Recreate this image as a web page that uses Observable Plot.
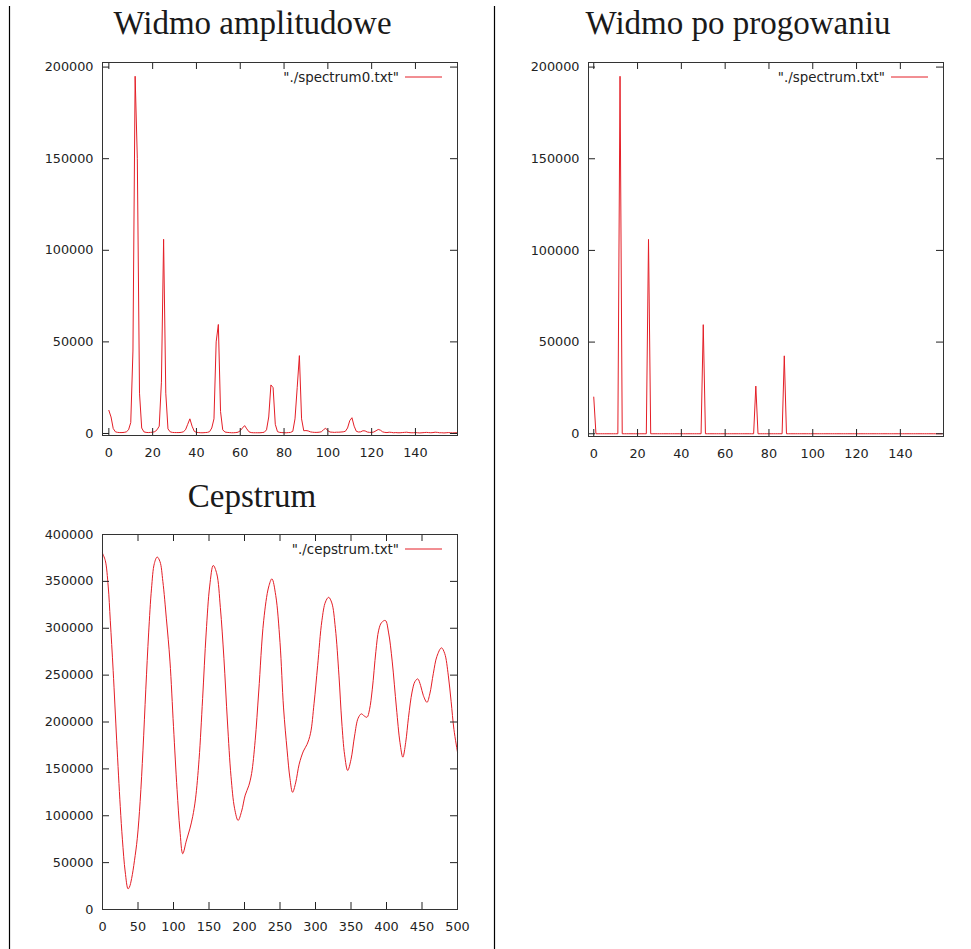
<!DOCTYPE html>
<html><head><meta charset="utf-8">
<script src="https://cdn.jsdelivr.net/npm/d3@7"></script>
<script src="https://cdn.jsdelivr.net/npm/@observablehq/plot@0.6"></script>
<style>
body{margin:0;background:#fff;}
#page{position:relative;width:971px;height:949px;overflow:hidden;background:#fff;}
.panel{position:absolute;}
#overlay{position:absolute;left:0;top:0;pointer-events:none;}
</style></head><body><div id="page"></div><script>
// ---------- data ----------
const titles = ["Widmo amplitudowe", "Widmo po progowaniu", "Cepstrum"];
const legendLabels = ['"./spectrum0.txt"', '"./spectrum.txt"', '"./cepstrum.txt"'];

// amplitude spectrum, bins 0..159
const spectrum0 = [
  12600, 9000, 2700, 900, 600, 500, 500, 600, 900, 2000,
  6000, 45000, 195000, 150000, 22000, 3000, 900, 600, 500, 600,
  700, 1000, 2000, 4000, 28000, 106000, 22000, 2500, 900, 600,
  500, 500, 500, 600, 900, 2000, 5000, 8000, 4000, 1200,
  600, 500, 400, 400, 500, 600, 1000, 3000, 8000, 50000,
  59500, 12000, 2000, 800, 600, 500, 400, 400, 500, 700,
  1500, 3000, 4300, 2500, 900, 500, 400, 400, 400, 400,
  500, 700, 2000, 9000, 26500, 25000, 5000, 1000, 600, 500,
  400, 400, 500, 600, 1200, 8000, 25000, 42500, 8000, 1500,
  1600, 1400, 900, 700, 600, 600, 700, 900, 2000, 2900,
  1500, 800, 700, 600, 700, 700, 800, 900, 1200, 3000,
  7000, 8600, 4000, 1200, 800, 900, 1500, 1400, 800, 600,
  600, 800, 1500, 2200, 1800, 900, 600, 500, 700, 600,
  400, 500, 400, 400, 500, 600, 700, 500, 400, 400,
  500, 400, 300, 400, 500, 600, 500, 400, 500, 700,
  600, 400, 400, 300, 400, 500, 400, 300, 400, 400
];

// thresholded spectrum: non-zero bins only (all other bins are 0)
const thresholdBins = [0, 12, 25, 50, 74, 87];
const thresholdValues = [20000, 195000, 106000, 59500, 26000, 42500];

// cepstrum key points
const cepstrumX = [0, 4, 8, 11, 15, 20, 25, 28, 32, 36, 38, 41, 45, 49, 53, 57, 61, 65, 69, 73, 77, 81,
  85, 90, 95, 100, 105, 109, 113, 118, 123, 127, 131, 136, 141, 146, 151, 156, 161, 166, 171, 176,
  181, 186, 191, 196, 201, 206, 210, 215, 220, 227, 234, 238.6, 244, 250, 255, 260, 264, 267.7, 272, 277,
  283, 288, 293, 298, 303, 309, 314, 318.5, 323, 328, 333, 337, 341, 345.3, 350, 355, 360, 364.6, 368.5, 372.6,
  376, 380, 385, 389, 393, 398.4, 403, 408, 414, 419, 423, 427, 431, 436, 440, 444, 448, 452, 457, 461,
  466, 471, 477.4, 482, 487, 491, 495, 500];
const cepstrumY = [380000, 372000, 345000, 308000, 255000, 180000, 110000, 75000, 40000, 22000, 24000, 33000, 52000, 76000, 115000, 170000, 235000, 295000, 342000, 369000, 376000, 371000,
  350000, 310000, 265000, 195000, 128000, 85000, 59500, 73000, 86000, 99000, 118000, 160000, 225000, 295000, 345000, 367000, 358000, 322000, 268000, 200000,
  142000, 108000, 95000, 105000, 122000, 132000, 145000, 180000, 232000, 308000, 344000, 352700, 335000, 285000, 215000, 170000, 140000, 125000, 135000, 155000,
  169000, 176000, 188000, 220000, 260000, 308000, 328000, 333000, 327000, 300000, 250000, 200000, 165000, 148300, 160000, 185000, 204000, 208700, 206500, 205100,
  213000, 235000, 275000, 298000, 306000, 308300, 295000, 265000, 215000, 178000, 162500, 178000, 205000, 232000, 243000, 246000, 239000, 228000, 221000, 230000,
  252000, 270000, 279100, 273000, 250000, 222000, 192000, 167800];

const spectrumTicksX = [0, 20, 40, 60, 80, 100, 120, 140];
const spectrumTicksY = [0, 50000, 100000, 150000, 200000];
const cepstrumTicksX = [0, 50, 100, 150, 200, 250, 300, 350, 400, 450, 500];
const cepstrumTicksY = [0, 50000, 100000, 150000, 200000, 250000, 300000, 350000, 400000];

// ---------- build tables ----------
const specA = spectrum0.map((v, i) => ({x: i, y: v}));
const specB = spectrum0.map((_, i) => {
  const k = thresholdBins.indexOf(i);
  return {x: i, y: k >= 0 ? thresholdValues[k] : 0};
});
const cep = cepstrumX.map((x, i) => ({x, y: cepstrumY[i]}));

const RED = "#e41e26";
const INK = "#222";
const TICK = 7;

function legendMark(label) {
  return function(...args) {
    const dims = args.find(a => a && typeof a === "object" && "marginLeft" in a && "width" in a);
    const x2 = dims.width - dims.marginRight - 15;
    const x1 = x2 - 37;
    const y = dims.marginTop + 15;
    const g = d3.create("svg:g");
    g.append("text").attr("x", x1 - 6).attr("y", y).attr("dy", "0.35em")
      .attr("text-anchor", "end").attr("fill", INK).attr("font-size", "13.4px").text(label);
    g.append("line").attr("x1", x1).attr("x2", x2).attr("y1", y).attr("y2", y)
      .attr("stroke", RED).attr("stroke-width", 1);
    return g.node();
  };
}

function panel(o) {
  const [mt, mr, mb, ml] = o.margins;
  const innerW = o.width - ml - mr, innerH = o.height - mt - mb;
  const hasAxisMarks = typeof Plot.axisX === "function";
  const fmt = d => String(d);
  const marks = [
    Plot.line(o.data, {x: "x", y: "y", stroke: RED, strokeWidth: 1, curve: o.curve || "linear"}),
    Plot.tickX(o.xTicks, {x: d => d, insetTop: innerH - TICK, stroke: INK}),
    Plot.tickX(o.xTicks, {x: d => d, insetBottom: innerH - TICK, stroke: INK}),
    Plot.tickY(o.yTicks, {y: d => d, insetRight: innerW - TICK, stroke: INK}),
    Plot.tickY(o.yTicks, {y: d => d, insetLeft: innerW - TICK, stroke: INK}),
    Plot.frame({stroke: "#333"}),
    legendMark(o.legend)
  ];
  if (hasAxisMarks) {
    marks.push(Plot.axisX({ticks: o.xTicks, tickSize: 0, tickPadding: 12, tickFormat: fmt, label: null, fill: INK}));
    marks.push(Plot.axisY({ticks: o.yTicks, tickSize: 0, tickPadding: 9, tickFormat: fmt, label: null, fill: INK}));
  }
  const plot = Plot.plot({
    width: o.width, height: o.height,
    marginTop: mt, marginRight: mr, marginBottom: mb, marginLeft: ml,
    style: {fontFamily: "'DejaVu Sans', sans-serif", fontSize: "12.8px", color: INK, background: "transparent", overflow: "visible"},
    x: hasAxisMarks ? {domain: o.xDomain, label: null} :
      {domain: o.xDomain, label: null, ticks: o.xTicks, tickSize: 0, tickPadding: 12, tickFormat: fmt},
    y: hasAxisMarks ? {domain: o.yDomain, label: null} :
      {domain: o.yDomain, label: null, ticks: o.yTicks, tickSize: 0, tickPadding: 9, tickFormat: fmt},
    marks
  });
  const div = document.createElement("div");
  div.className = "panel";
  div.style.left = o.left + "px";
  div.style.top = o.top + "px";
  div.appendChild(plot);
  document.getElementById("page").appendChild(div);
}

panel({data: specA, xDomain: [-2.9, 159.2], yDomain: [-1100, 202500],
  xTicks: spectrumTicksX, yTicks: spectrumTicksY, legend: legendLabels[0],
  left: 0, top: 40, width: 490, height: 430, margins: [22, 33, 35, 102]});
panel({data: specB, xDomain: [-2.4, 159.7], yDomain: [-1500, 202500],
  xTicks: spectrumTicksX, yTicks: spectrumTicksY, legend: legendLabels[1],
  left: 490, top: 40, width: 481, height: 430, margins: [22, 28, 34, 98]});
panel({data: cep, xDomain: [0, 500], yDomain: [0, 400000], curve: "catmull-rom",
  xTicks: cepstrumTicksX, yTicks: cepstrumTicksY, legend: legendLabels[2],
  left: 0, top: 500, width: 490, height: 449, margins: [34, 33, 40, 102]});

// overlay: titles and page rules
const ov = d3.select("#page").append("svg").attr("id", "overlay")
  .attr("width", 971).attr("height", 949);
ov.append("line").attr("x1", 9.5).attr("x2", 9.5).attr("y1", 6).attr("y2", 949).attr("stroke", "#000").attr("stroke-width", 1.2);
ov.append("line").attr("x1", 494.5).attr("x2", 494.5).attr("y1", 6).attr("y2", 949).attr("stroke", "#000").attr("stroke-width", 1.2);
const titlePos = [[252.5, 33.5], [738, 33.5], [252, 507]];
titles.forEach((t, i) => {
  ov.append("text").attr("x", titlePos[i][0]).attr("y", titlePos[i][1])
    .attr("text-anchor", "middle").attr("font-family", "'Liberation Serif', serif")
    .attr("font-size", 33).attr("fill", "#1a1a1a").text(t);
});
</script></body></html>
